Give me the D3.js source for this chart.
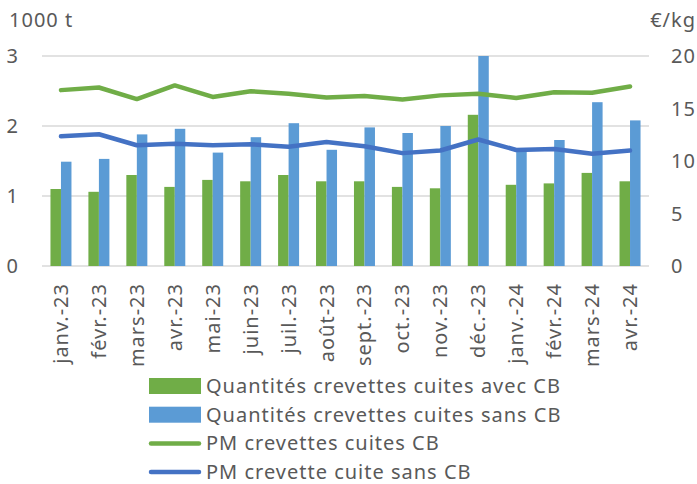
<!DOCTYPE html>
<html>
<head>
<meta charset="utf-8">
<script src="https://cdn.jsdelivr.net/npm/d3@7"></script>
<style>
  body { margin: 0; background: #fff; }
  text { font-family: "Noto Sans", sans-serif; fill: #595959; letter-spacing: 1px; }
</style>
</head>
<body>
<div id="chart"></div>
<script>
const months = ["janv.-23", "févr.-23", "mars-23", "avr.-23", "mai-23", "juin-23", "juil.-23", "août-23",
  "sept.-23", "oct.-23", "nov.-23", "déc.-23", "janv.-24", "févr.-24", "mars-24", "avr.-24"];
const qtyAvecCB = [1.10, 1.06, 1.30, 1.13, 1.23, 1.21, 1.30, 1.21, 1.21, 1.13, 1.11, 2.16, 1.16, 1.18, 1.33, 1.21];
const qtySansCB = [1.49, 1.53, 1.88, 1.96, 1.62, 1.84, 2.04, 1.66, 1.98, 1.90, 2.00, 3.00, 1.66, 1.80, 2.34, 2.08];
const pmAvecCB = [16.75, 17.0, 15.9, 17.2, 16.1, 16.65, 16.4, 16.05, 16.2, 15.85, 16.25, 16.4, 16.0, 16.55, 16.5, 17.1];
const pmSansCB = [12.35, 12.55, 11.5, 11.65, 11.5, 11.6, 11.35, 11.8, 11.4, 10.75, 11.0, 12.05, 11.05, 11.15, 10.7, 11.0];
const leftTicks = [0, 1, 2, 3];
const rightTicks = [0, 5, 10, 15, 20];
const legendItems = [
  { label: "Quantités crevettes cuites avec CB", color: "#70ad47", type: "bar" },
  { label: "Quantités crevettes cuites sans CB", color: "#5b9bd5", type: "bar" },
  { label: "PM crevettes cuites CB", color: "#70ad47", type: "line" },
  { label: "PM crevette cuite sans CB", color: "#4472c4", type: "line" }
];

const width = 697, height = 484;
const margin = { top: 56, right: 48, bottom: 218, left: 42 };
const innerW = width - margin.left - margin.right;
const innerH = height - margin.top - margin.bottom;

const svg = d3.select("#chart").append("svg")
  .attr("width", width).attr("height", height);

const g = svg.append("g").attr("transform", `translate(${margin.left},${margin.top})`);

const x = d3.scaleBand().domain(months).range([0, innerW]);
const yL = d3.scaleLinear().domain([0, 3]).range([innerH, 0]);
const yR = d3.scaleLinear().domain([0, 20]).range([innerH, 0]);
const barW = 10.5;

// gridlines
g.selectAll(".grid").data(leftTicks).enter().append("line")
  .attr("x1", 0).attr("x2", innerW)
  .attr("y1", d => yL(d)).attr("y2", d => yL(d))
  .attr("stroke", "#d9d9d9").attr("stroke-width", 1.3);

// left ticks
g.selectAll(".ltick").data(leftTicks).enter().append("text")
  .attr("x", -23).attr("y", d => yL(d)).attr("dy", "0.35em")
  .attr("text-anchor", "end").style("font-size", "20px")
  .text(d => d);

// right ticks
g.selectAll(".rtick").data(rightTicks).enter().append("text")
  .attr("x", innerW + 22).attr("y", d => yR(d)).attr("dy", "0.35em")
  .attr("text-anchor", "start").style("font-size", "20px")
  .text(d => d);

svg.append("text").attr("x", 9).attr("y", 27).style("font-size", "20px").text("1000 t");
svg.append("text").attr("x", 696).attr("y", 27).attr("text-anchor", "end").style("font-size", "20px").text("€/kg");

// bars
g.selectAll(".barA").data(qtyAvecCB).enter().append("rect")
  .attr("x", (d, i) => x(months[i]) + x.bandwidth() / 2 - barW)
  .attr("y", d => yL(d)).attr("width", barW).attr("height", d => innerH - yL(d))
  .attr("fill", "#70ad47");
g.selectAll(".barS").data(qtySansCB).enter().append("rect")
  .attr("x", (d, i) => x(months[i]) + x.bandwidth() / 2)
  .attr("y", d => yL(d)).attr("width", barW).attr("height", d => innerH - yL(d))
  .attr("fill", "#5b9bd5");

// lines
const line = d3.line()
  .x((d, i) => x(months[i]) + x.bandwidth() / 2)
  .y(d => yR(d));
g.append("path").datum(pmAvecCB).attr("d", line)
  .attr("fill", "none").attr("stroke", "#70ad47").attr("stroke-width", 4.5).attr("stroke-linejoin", "round").attr("stroke-linecap", "round");
g.append("path").datum(pmSansCB).attr("d", line)
  .attr("fill", "none").attr("stroke", "#4472c4").attr("stroke-width", 4.5).attr("stroke-linejoin", "round").attr("stroke-linecap", "round");

// x labels
g.selectAll(".xlab").data(months).enter().append("text")
  .attr("transform", d => `translate(${x(d) + x.bandwidth() / 2 + 7},${innerH + 17}) rotate(-90)`)
  .attr("text-anchor", "end").style("font-size", "20px")
  .text(d => d);

// legend
const legend = svg.append("g").attr("transform", "translate(149,386)");
legendItems.forEach((d, i) => {
  const row = legend.append("g").attr("transform", `translate(0,${i * 28.7})`);
  if (d.type === "bar") {
    row.append("rect").attr("x", 0).attr("y", -8).attr("width", 52).attr("height", 16).attr("fill", d.color);
  } else {
    row.append("line").attr("x1", 2).attr("x2", 50).attr("y1", 0).attr("y2", 0)
      .attr("stroke", d.color).attr("stroke-width", 4.5).attr("stroke-linecap", "round");
  }
  row.append("text").attr("x", 57).attr("y", 0).attr("dy", "0.35em").style("font-size", "20px").text(d.label);
});
</script>
</body>
</html>
